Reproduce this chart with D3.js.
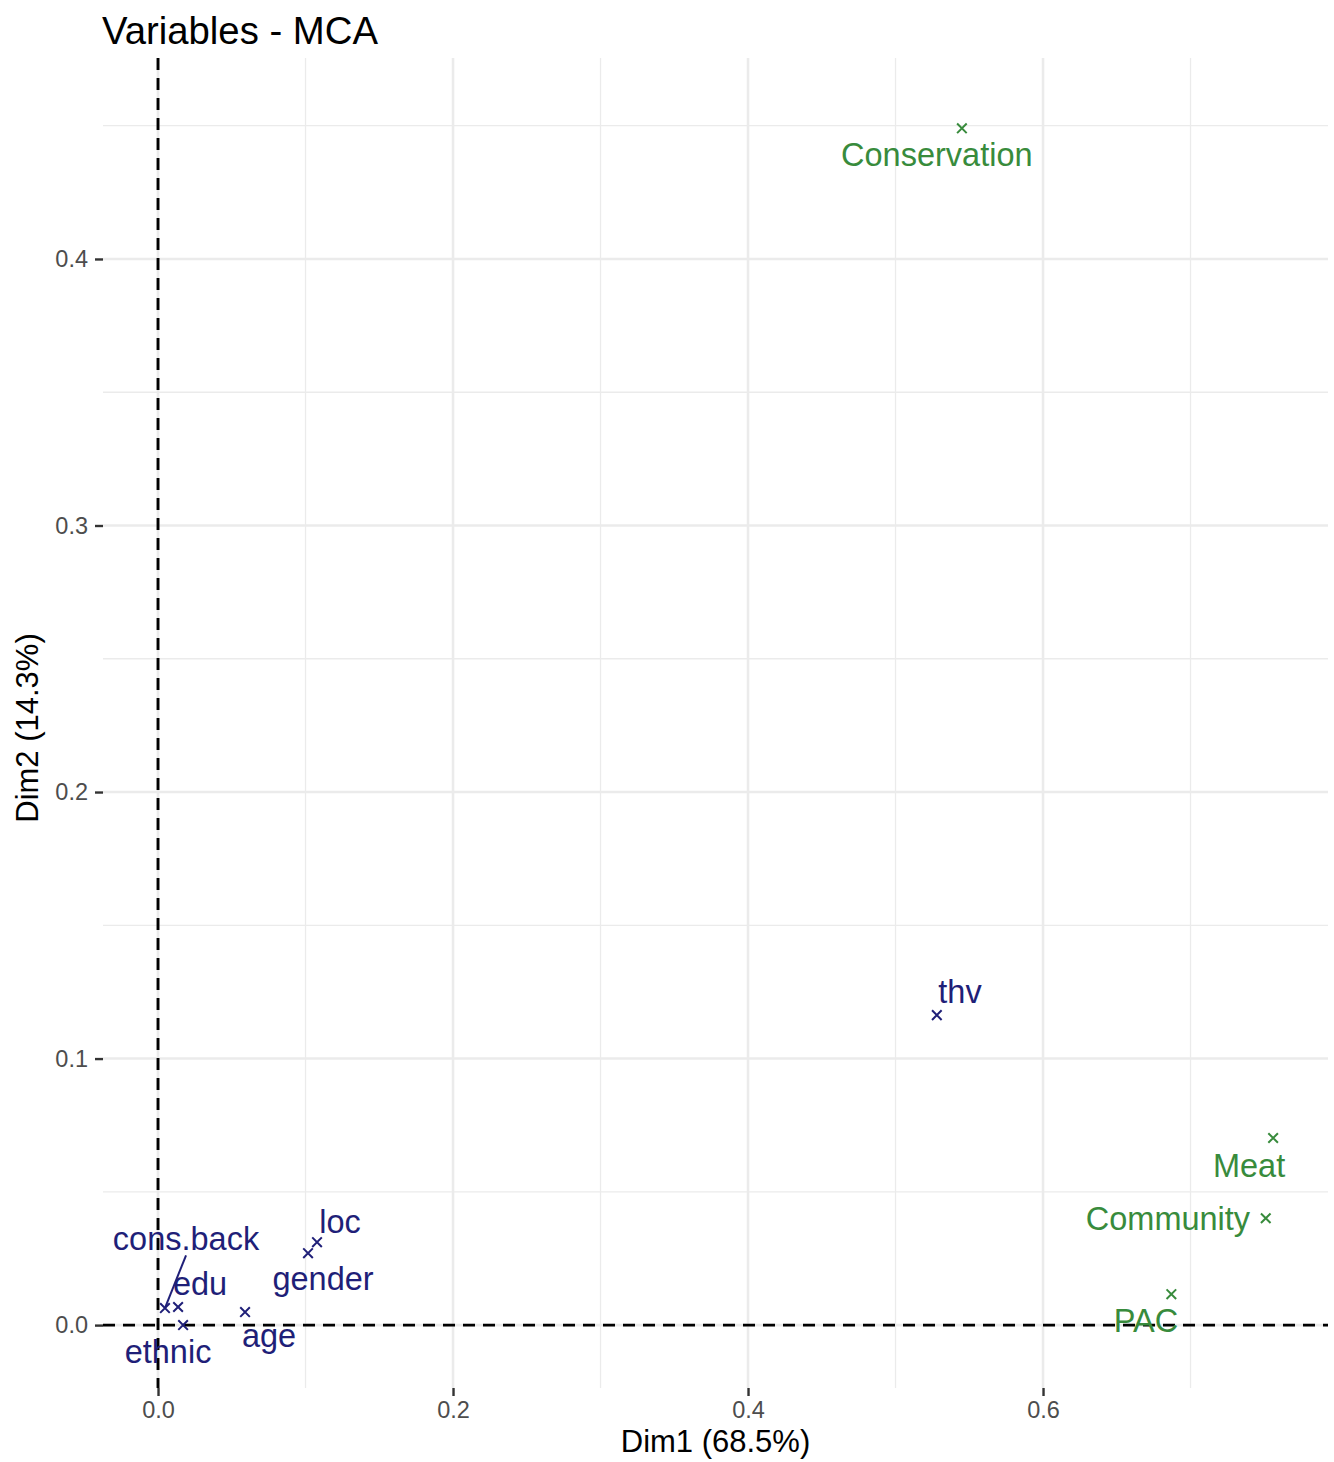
<!DOCTYPE html>
<html>
<head>
<meta charset="utf-8">
<script src="https://cdn.jsdelivr.net/npm/d3@7"></script>
<style>
  body { margin: 0; background: #fff; }
  text { font-family: "Liberation Sans", Arial, sans-serif; }
</style>
</head>
<body>
<div id="chart"></div>
<script>
// variable names and MCA coordinates
const names = ["cons.back", "edu", "ethnic", "age", "gender", "loc", "thv",
               "Conservation", "Meat", "Community", "PAC"];
const dim1 = [0.0047, 0.0136, 0.0170, 0.0590, 0.1017, 0.1078, 0.5280,
              0.5450, 0.7560, 0.7510, 0.6870];
const dim2 = [0.0064, 0.0068, 0.0000, 0.0049, 0.0270, 0.0311, 0.1163,
              0.4490, 0.0702, 0.0401, 0.0116];
const kind = ["active", "active", "active", "active", "active", "active", "active",
              "sup", "sup", "sup", "sup"];
// repelled label positions, in data units
const labelX = [0.0190, 0.0285, 0.0068, 0.0753, 0.1119, 0.1234, 0.5437,
                0.5280, 0.7397, 0.6847, 0.6698];
const labelY = [0.0323, 0.0154, -0.0098, -0.0041, 0.0173, 0.0390, 0.1253,
                0.4390, 0.0597, 0.0398, 0.0015];

const xTicks = [0.0, 0.2, 0.4, 0.6];
const yTicks = [0.0, 0.1, 0.2, 0.3, 0.4];
const xMinor = [0.1, 0.3, 0.5, 0.7];
const yMinor = [0.05, 0.15, 0.25, 0.35, 0.45];

const width = 1334, height = 1462;
const panel = {left: 103, right: 1328, top: 58, bottom: 1388};
const colors = {active: "#1f1f78", sup: "#388b3c"};
const labelSize = 32.5;

const svg = d3.select("#chart").append("svg")
    .attr("width", width)
    .attr("height", height);

const x = d3.scaleLinear()
    .domain([-0.0373, 0.7932])
    .range([panel.left, panel.right]);
const y = d3.scaleLinear()
    .domain([-0.0236, 0.4754])
    .range([panel.bottom, panel.top]);

const data = names.map((n, i) => ({
    name: n, x: dim1[i], y: dim2[i], kind: kind[i], lx: labelX[i], ly: labelY[i]
}));

// grid: minor then major
const grid = svg.append("g").attr("class", "grid");
grid.selectAll(".vminor").data(xMinor).enter().append("line")
    .attr("x1", d => x(d)).attr("x2", d => x(d))
    .attr("y1", panel.top).attr("y2", panel.bottom)
    .attr("stroke", "#ebebeb").attr("stroke-width", 1.3);
grid.selectAll(".hminor").data(yMinor).enter().append("line")
    .attr("y1", d => y(d)).attr("y2", d => y(d))
    .attr("x1", panel.left).attr("x2", panel.right)
    .attr("stroke", "#ebebeb").attr("stroke-width", 1.3);
grid.selectAll(".vmajor").data(xTicks).enter().append("line")
    .attr("x1", d => x(d)).attr("x2", d => x(d))
    .attr("y1", panel.top).attr("y2", panel.bottom)
    .attr("stroke", "#ebebeb").attr("stroke-width", 2.6);
grid.selectAll(".hmajor").data(yTicks).enter().append("line")
    .attr("y1", d => y(d)).attr("y2", d => y(d))
    .attr("x1", panel.left).attr("x2", panel.right)
    .attr("stroke", "#ebebeb").attr("stroke-width", 2.6);

// axes
const xAxis = svg.append("g")
    .attr("transform", "translate(0," + panel.bottom + ")")
    .call(d3.axisBottom(x).tickValues(xTicks).tickFormat(d3.format(".1f"))
        .tickSize(8).tickPadding(5));
const yAxis = svg.append("g")
    .attr("transform", "translate(" + panel.left + ",0)")
    .call(d3.axisLeft(y).tickValues(yTicks).tickFormat(d3.format(".1f"))
        .tickSize(8).tickPadding(7));
[xAxis, yAxis].forEach(a => {
    a.select(".domain").attr("display", "none");
    a.selectAll(".tick line").attr("stroke", "#333").attr("stroke-width", 2.4);
    a.selectAll(".tick text")
        .attr("fill", "#4d4d4d")
        .style("font-size", "23.5px")
        .style("font-family", "'Liberation Sans', Arial, sans-serif");
});

// reference lines at 0
svg.append("line")
    .attr("x1", x(0)).attr("x2", x(0))
    .attr("y1", panel.top).attr("y2", panel.bottom)
    .attr("stroke", "#000").attr("stroke-width", 2.9)
    .attr("stroke-dasharray", "12,8");
svg.append("line")
    .attr("y1", y(0)).attr("y2", y(0))
    .attr("x1", panel.left).attr("x2", panel.right)
    .attr("stroke", "#000").attr("stroke-width", 2.9)
    .attr("stroke-dasharray", "12,8");

// crosses
const s = 4.8;
const pts = svg.selectAll(".pt").data(data).enter().append("g")
    .attr("class", "pt")
    .attr("transform", d => "translate(" + x(d.x) + "," + y(d.y) + ")");
pts.append("path")
    .attr("d", `M${-s},${-s}L${s},${s}M${-s},${s}L${s},${-s}`)
    .attr("stroke", d => colors[d.kind])
    .attr("stroke-width", 2)
    .attr("fill", "none");

// repel segment for cons.back (label far from its point)
data.filter(d => d.name === "cons.back").forEach(d => {
    svg.append("line")
        .attr("x1", x(d.x)).attr("y1", y(d.y))
        .attr("x2", x(d.lx)).attr("y2", y(d.ly) + labelSize * 0.5)
        .attr("stroke", colors[d.kind])
        .attr("stroke-width", 2);
});

// labels
svg.selectAll(".lab").data(data).enter().append("text")
    .attr("class", "lab")
    .attr("x", d => x(d.lx))
    .attr("y", d => y(d.ly))
    .attr("dy", "0.35em")
    .attr("text-anchor", "middle")
    .attr("fill", d => colors[d.kind])
    .style("font-size", labelSize + "px")
    .text(d => d.name);

// titles
svg.append("text")
    .attr("x", 102).attr("y", 44)
    .style("font-size", "38.3px")
    .attr("fill", "#000")
    .text("Variables - MCA");
svg.append("text")
    .attr("x", (panel.left + panel.right) / 2).attr("y", 1452)
    .attr("text-anchor", "middle")
    .style("font-size", "31px")
    .attr("fill", "#000")
    .text("Dim1 (68.5%)");
svg.append("text")
    .attr("transform", "translate(38," + 728 + ") rotate(-90)")
    .attr("text-anchor", "middle")
    .style("font-size", "31px")
    .attr("fill", "#000")
    .text("Dim2 (14.3%)");
</script>
</body>
</html>
